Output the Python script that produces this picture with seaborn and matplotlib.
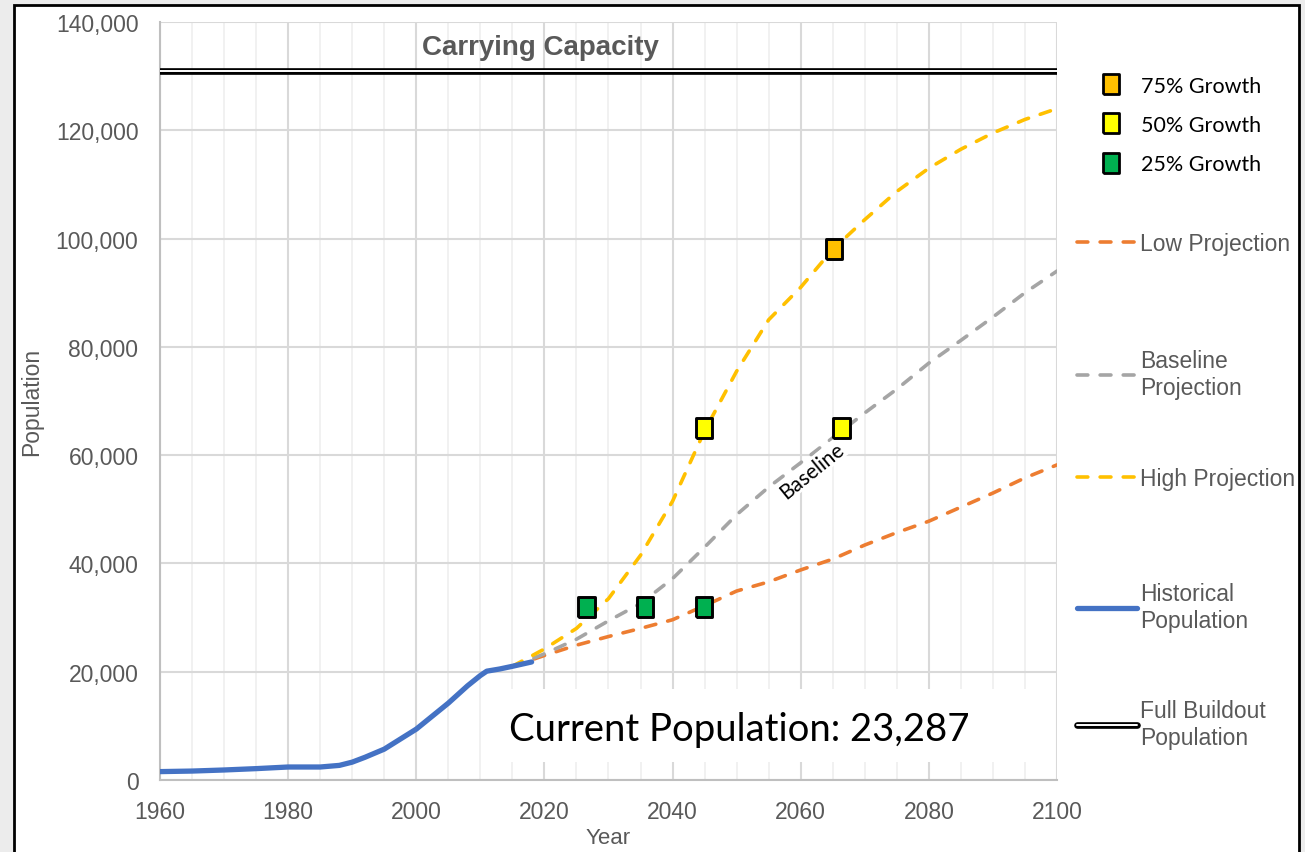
import numpy as np
import pandas as pd
import matplotlib.pyplot as plt
import seaborn as sns
from matplotlib.lines import Line2D
from matplotlib.patches import Rectangle
from matplotlib.ticker import MultipleLocator, FuncFormatter

# historical population
hist_years = [1960, 1965, 1970, 1975, 1980, 1985, 1988, 1990, 1992, 1995, 2000,
              2005, 2008, 2010, 2011, 2013, 2015, 2018]
hist_pop = [1550, 1650, 1850, 2100, 2400, 2400, 2700, 3300, 4200, 5700, 9400,
            14200, 17400, 19300, 20100, 20500, 21000, 21800]

# projections (5-year steps)
proj_years = list(range(2015, 2101, 5))
low_proj = [21000, 23000, 24900, 26500, 28000, 29600, 32200, 34900, 36600, 38800,
            40800, 43400, 45700, 47800, 50400, 53000, 55800, 58200]
base_proj = [21000, 23300, 26000, 29400, 32600, 37200, 43000, 49000, 54100, 58600,
             63200, 67800, 72200, 77000, 81200, 85500, 90000, 94000]
high_proj = [21000, 24200, 28000, 33500, 41500, 51500, 64500, 75500, 85000, 91000,
             98000, 103500, 108700, 113000, 116500, 119500, 122000, 124000]

carrying_capacity = 131000
current_pop = 23287

# growth milestones
growth_labels = ["75% Growth", "50% Growth", "25% Growth"]
growth_colors = ["#FFC000", "#FFFF00", "#00B050"]
milestone_level = ["75% Growth", "50% Growth", "50% Growth",
                   "25% Growth", "25% Growth", "25% Growth"]
milestone_year = [2065.2, 2044.9, 2066.4, 2026.6, 2035.7, 2044.9]
milestone_pop = [98000, 65000, 65000, 32000, 32000, 32000]

line_labels = ["Low Projection", "Baseline\nProjection", "High Projection",
               "Historical\nPopulation", "Full Buildout\nPopulation"]

grey_txt = "#595959"
c_low, c_base, c_high, c_hist = "#ED7D31", "#A5A5A5", "#FFC000", "#4472C4"
dash = (0, (3, 3.4))
proj_lw = 2.6
rect_marker = [(-0.41, -0.5), (0.41, -0.5), (0.41, 0.5), (-0.41, 0.5), (-0.41, -0.5)]

sns.set_style("white")
plt.rcParams["font.family"] = ["Liberation Sans", "DejaVu Sans"]

fig = plt.figure(figsize=(13.05, 8.53), dpi=100)
fig.patch.set_facecolor("#ececec")
fig.patches.append(Rectangle((14 / 1305, -0.02), 1285 / 1305, 1.02 - 6 / 853,
                             transform=fig.transFigure, facecolor="white",
                             edgecolor="black", lw=2, zorder=-1))
ax = fig.add_axes([160 / 1305, 72 / 853, 897 / 1305, 758 / 853])

# carrying capacity double line
ax.axhline(carrying_capacity, color="black", lw=4.8, zorder=3)
ax.axhline(carrying_capacity, color="white", lw=1.4, zorder=3)

sns.lineplot(x=proj_years, y=low_proj, ax=ax, color=c_low, lw=proj_lw,
             linestyle=dash, dash_capstyle="round", zorder=3)
sns.lineplot(x=proj_years, y=base_proj, ax=ax, color=c_base, lw=proj_lw,
             linestyle=dash, dash_capstyle="round", zorder=3)
sns.lineplot(x=proj_years, y=high_proj, ax=ax, color=c_high, lw=proj_lw,
             linestyle=dash, dash_capstyle="round", zorder=3)
sns.lineplot(x=hist_years, y=hist_pop, ax=ax, color=c_hist, lw=3.8,
             solid_capstyle="round", solid_joinstyle="round", zorder=4)

ms = pd.DataFrame({"year": milestone_year, "pop": milestone_pop, "level": milestone_level})
sns.scatterplot(data=ms, x="year", y="pop", hue="level", hue_order=growth_labels,
                palette=growth_colors, marker=rect_marker, s=210, edgecolor="black",
                linewidth=2.1, legend=False, ax=ax, zorder=6)

# white box with current population
ax.add_patch(Rectangle((2013.8, 3300), 85.3, 13500, facecolor="white",
                       edgecolor="none", zorder=1))
ax.text(2050.4, 9500, f"Current Population: {current_pop:,}", ha="center",
        va="center", fontsize=27.5, family="Lato", color="black", zorder=5)
ax.text(2061.7, 57200, "Baseline", rotation=39, rotation_mode="anchor",
        ha="center", va="center", fontsize=15, family="Lato", color="black",
        zorder=5, bbox=dict(facecolor="white", edgecolor="none", pad=0.5))
ax.text(2019.3, 135400, "Carrying Capacity", ha="center", va="center",
        fontsize=20, fontweight="bold", color=grey_txt)

ax.set_xlim(1960, 2100)
ax.set_ylim(0, 140000)
ax.xaxis.set_major_locator(MultipleLocator(20))
ax.xaxis.set_minor_locator(MultipleLocator(5))
ax.yaxis.set_major_locator(MultipleLocator(20000))
ax.yaxis.set_minor_locator(MultipleLocator(5000))
ax.yaxis.set_major_formatter(FuncFormatter(lambda v, p: f"{v:,.0f}"))
ax.set_axisbelow(True)
ax.grid(which="major", axis="both", color="#d9d9d9", lw=1.5)
ax.grid(which="minor", axis="x", color="#efefef", lw=1.2)
ax.grid(which="minor", axis="y", visible=False)
ax.tick_params(which="both", direction="inout", length=7, width=1.1,
               color="#bfbfbf", labelcolor=grey_txt, labelsize=16.5)
ax.tick_params(axis="x", pad=11)
ax.tick_params(axis="y", pad=12)
for s in ["top", "right"]:
    ax.spines[s].set_visible(False)
for s in ["left", "bottom"]:
    ax.spines[s].set_color("#bfbfbf")
    ax.spines[s].set_linewidth(1.5)
ax.set_xlabel("Year", fontsize=16, color=grey_txt, labelpad=3)
ax.set_ylabel("Population", fontsize=16.5, color=grey_txt, labelpad=9)

# legend for growth markers
m_handles = [Line2D([], [], linestyle="none", marker=rect_marker, markersize=14,
                    markerfacecolor=c, markeredgecolor="black", markeredgewidth=2)
             for c in growth_colors]
fig.legend(m_handles, growth_labels, loc="center left",
           bbox_to_anchor=(1100 / 1305, 1 - 126 / 853), frameon=False,
           borderpad=0, borderaxespad=0, handlelength=1.0, handletextpad=0.9,
           labelspacing=0.9, prop={"family": "Lato", "size": 15.5},
           labelcolor="black")

# legend for lines, one entry each so the spacing follows the reference
l_handles = [
    Line2D([], [], color=c_low, lw=proj_lw, linestyle=dash, dash_capstyle="round"),
    Line2D([], [], color=c_base, lw=proj_lw, linestyle=dash, dash_capstyle="round"),
    Line2D([], [], color=c_high, lw=proj_lw, linestyle=dash, dash_capstyle="round"),
    Line2D([], [], color=c_hist, lw=3.8, solid_capstyle="round"),
    (Line2D([], [], color="black", lw=4.8, solid_capstyle="round"),
     Line2D([], [], color="white", lw=1.4, solid_capstyle="round")),
]
entry_y = [245, 375, 480, 608, 725]
for h, lab, yy in zip(l_handles, line_labels, entry_y):
    fig.legend([h], [lab], loc="center left",
               bbox_to_anchor=(1077 / 1305, 1 - yy / 853), frameon=False,
               borderpad=0, borderaxespad=0, handlelength=2.6, handletextpad=0.15,
               prop={"size": 16.5}, labelcolor=grey_txt)

fig.savefig("out.png", dpi=100)
